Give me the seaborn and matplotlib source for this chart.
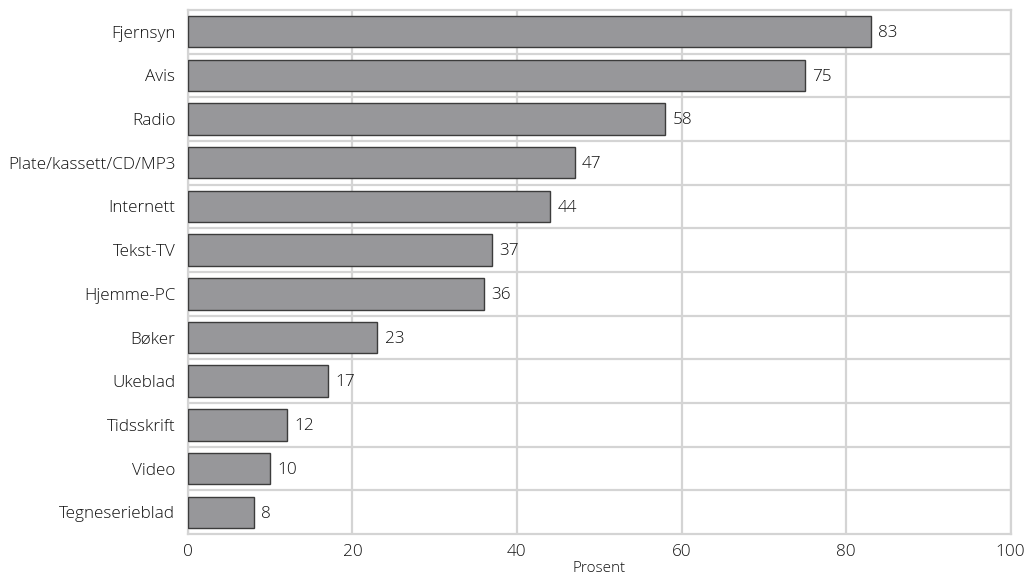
import numpy as np
import pandas as pd
import matplotlib
matplotlib.use('Agg')
import matplotlib.pyplot as plt
import seaborn as sns

categories = ['Fjernsyn', 'Avis', 'Radio', 'Plate/kassett/CD/MP3', 'Internett',
              'Tekst-TV', 'Hjemme-PC', 'Bøker', 'Ukeblad', 'Tidsskrift',
              'Video', 'Tegneserieblad']
values = [83, 75, 58, 47, 44, 37, 36, 23, 17, 12, 10, 8]
xticks = [0, 20, 40, 60, 80, 100]

df = pd.DataFrame({'medium': categories, 'prosent': values})

sns.set_style('white')
plt.rcParams['font.family'] = ['Open Sans', 'DejaVu Sans']
plt.rcParams['font.weight'] = 'light'
plt.rcParams['axes.labelweight'] = 'light'
plt.rcParams['font.size'] = 12.3

fig, ax = plt.subplots(figsize=(10.27, 5.78), dpi=100)
fig.subplots_adjust(left=0.183, right=0.984, top=0.983, bottom=0.076)

sns.barplot(data=df, x='prosent', y='medium', orient='h', color='#97979a',
            edgecolor='#3c3c3c', linewidth=1.0, width=0.72, saturation=1, ax=ax, zorder=3)

for i, v in enumerate(values):
    ax.text(v + 0.9, i + 0.03, str(v), va='center', ha='left', color='#111111', fontsize=12.3)

ax.set_xlim(0, 100)
ax.set_ylim(len(categories) - 0.5, -0.5)
ax.set_xticks(xticks)
ax.set_yticks(np.arange(len(categories) - 1) + 0.5, minor=True)
ax.grid(axis='x', which='major', color='#d4d4d4', linewidth=1.6, zorder=0)
ax.grid(axis='y', which='minor', color='#d4d4d4', linewidth=1.6, zorder=0)
ax.set_axisbelow(True)
for s in ax.spines.values():
    s.set_color('#d4d4d4')
    s.set_linewidth(1.6)
ax.tick_params(axis='both', which='both', length=0, colors='#111111', labelsize=12.3)
ax.tick_params(axis='y', pad=9)
ax.tick_params(axis='x', pad=7)
ax.set_ylabel('')
ax.set_xlabel('Prosent', fontsize=11, color='#111111', labelpad=1)

plt.savefig('out.png', dpi=100)
